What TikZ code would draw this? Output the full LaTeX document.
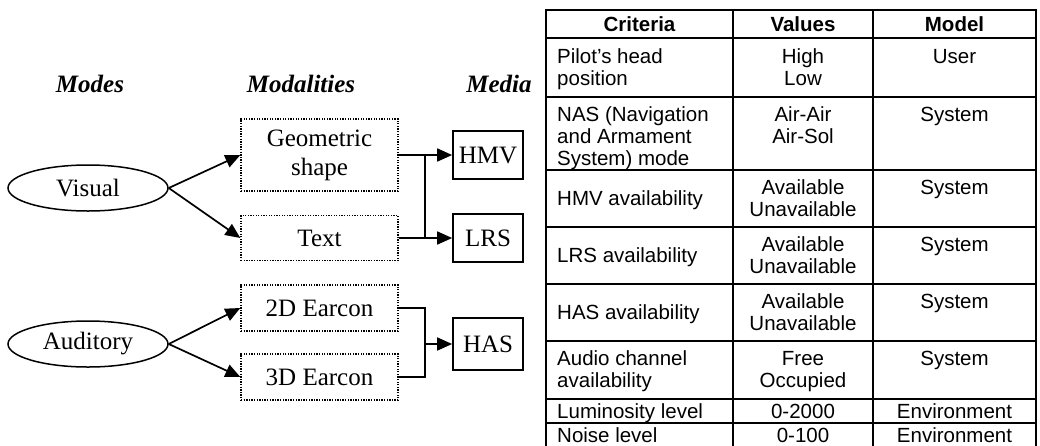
\documentclass[tikz,border=0pt]{standalone}
\usepackage{fontspec}
\setmainfont{Liberation Serif}
\newfontfamily\arialf{Liberation Sans}
\usetikzlibrary{arrows.meta,shapes.geometric}
\begin{document}
\begin{tikzpicture}[x=1pt,y=-1pt,
  serif/.style={font=\fontsize{25}{29}\selectfont},
  titletext/.style={font=\fontsize{25}{28}\selectfont\bfseries\itshape, anchor=base, inner sep=0pt},
  modenode/.style={ellipse, draw, line width=1.5pt, minimum width=160pt, minimum height=46pt, inner sep=0pt, serif},
  modality/.style={draw, line width=1.3pt, dash pattern=on 1.3pt off 1.3pt, minimum width=157pt, inner sep=0pt, serif, align=center},
  medium/.style={draw, line width=1.7pt, minimum width=70pt, minimum height=48pt, inner sep=0pt, serif},
  link/.style={line width=1.7pt},
  arr/.style={link, -{Triangle[length=15pt,width=13pt]}},
  grid/.style={line width=1.6pt},
  cell/.style={font=\fontsize{20.5}{22}\selectfont\arialf, inner sep=0pt},
  crit/.style={cell, anchor=base west},
  valc/.style={cell, anchor=base},
  hdr/.style={cell, anchor=base, font=\fontsize{20.5}{22}\selectfont\arialf\bfseries}
]
\useasboundingbox (0,0) rectangle (1040,445);

% titles
\node[titletext] (tmodes) at (90,92) {Modes};
\node[titletext] (tmodal) at (301,92) {Modalities};
\node[titletext] (tmedia) at (499,92) {Media};

% modes
\node[modenode] (visual) at (88,188) {Visual};
\node[modenode] (audit) at (88,344) {Auditory};

% modalities
\node[modality, minimum height=72pt] (geom) at (319.5,155) {Geometric\\shape};
\node[modality, minimum height=45pt] (text) at (319.5,238) {Text};
\node[modality, minimum height=46pt] (e2d) at (319.5,308) {2D Earcon};
\node[modality, minimum height=46pt] (e3d) at (319.5,377) {3D Earcon};

% media
\node[medium] (hmv) at (488,155) {HMV};
\node[medium] (lrs) at (488,238) {LRS};
\node[medium, minimum height=52pt] (has) at (488,344) {HAS};

% connectors
\draw[arr] (visual.east) -- (geom.west);
\draw[arr] (visual.east) -- (text.west);
\draw[arr] (audit.east) -- (e2d.west);
\draw[arr] (audit.east) -- (e3d.west);

\coordinate (jv) at (425,0);
\draw[arr] (geom.east) -- (hmv.west);
\draw[arr] (text.east) -- (lrs.west);
\draw[link] (geom.east -| jv) -- (text.east -| jv);

\coordinate (ja) at (425,344);
\draw[link] (e2d.east) -- (e2d.east -| ja) -- (e3d.east -| ja) -- (e3d.east);
\draw[arr] (ja) -- (has.west);

% table grid
\draw[grid] (546,446) -- (546,10) -- (1036,10) -- (1036,446);
\draw[grid] (733,10) -- (733,446);
\draw[grid] (873,10) -- (873,446);
\foreach \yy in {38,97,170,227,284,341,399,423}
  \draw[grid] (546,\yy) -- (1036,\yy);

% header
\node[hdr] (h1) at (639.5,31) {Criteria};
\node[hdr] (h2) at (803,31) {Values};
\node[hdr] (h3) at (954.5,31) {Model};

% row 1
\node[crit] (c1a) at (557,63) {Pilot’s head};
\node[crit] (c1b) at (557,85) {position};
\node[valc] (v1a) at (803,63) {High};
\node[valc] (v1b) at (803,85) {Low};
\node[valc] (m1) at (954.5,63) {User};

% row 2
\node[crit] (c2a) at (557,121) {NAS (Navigation};
\node[crit] (c2b) at (557,143) {and Armament};
\node[crit] (c2c) at (557,165) {System) mode};
\node[valc] (v2a) at (803,121) {Air-Air};
\node[valc] (v2b) at (803,143) {Air-Sol};
\node[valc] (m2) at (954.5,121) {System};

% row 3
\node[crit] (c3) at (557,205) {HMV availability};
\node[valc] (v3a) at (803,194) {Available};
\node[valc] (v3b) at (803,216) {Unavailable};
\node[valc] (m3) at (954.5,194) {System};

% row 4
\node[crit] (c4) at (557,262) {LRS availability};
\node[valc] (v4a) at (803,251) {Available};
\node[valc] (v4b) at (803,273) {Unavailable};
\node[valc] (m4) at (954.5,251) {System};

% row 5
\node[crit] (c5) at (557,319) {HAS availability};
\node[valc] (v5a) at (803,308) {Available};
\node[valc] (v5b) at (803,330) {Unavailable};
\node[valc] (m5) at (954.5,308) {System};

% row 6
\node[crit] (c6a) at (557,365) {Audio channel};
\node[crit] (c6b) at (557,387) {availability};
\node[valc] (v6a) at (803,365) {Free};
\node[valc] (v6b) at (803,387) {Occupied};
\node[valc] (m6) at (954.5,365) {System};

% row 7
\node[crit] (c7) at (557,418) {Luminosity level};
\node[valc] (v7) at (803,418) {0-2000};
\node[valc] (m7) at (954.5,418) {Environment};

% row 8
\node[crit] (c8) at (557,442) {Noise level};
\node[valc] (v8) at (803,442) {0-100};
\node[valc] (m8) at (954.5,442) {Environment};
\end{tikzpicture}
\end{document}
